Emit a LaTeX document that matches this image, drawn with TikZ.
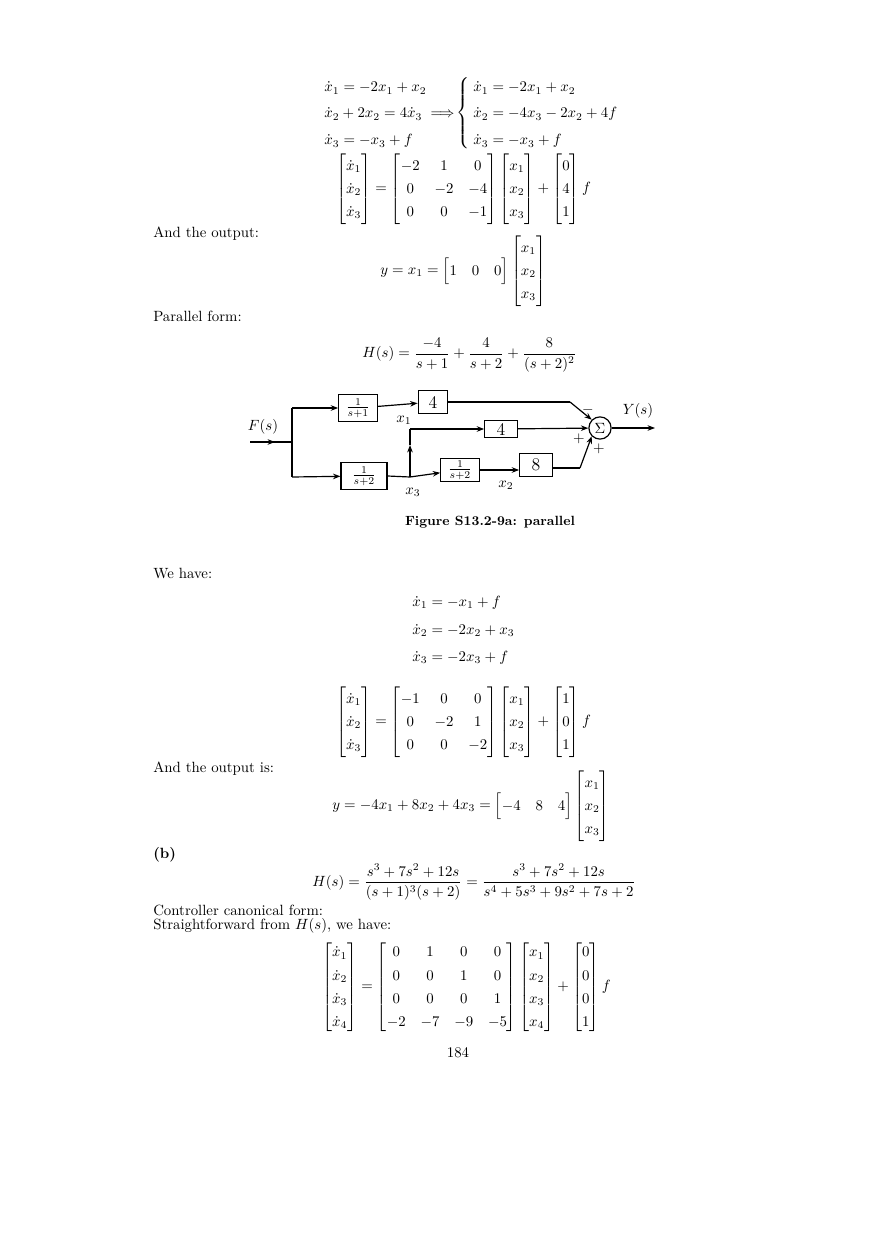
\documentclass[tikz,border=0pt]{standalone}
\usepackage{amsmath}
\usetikzlibrary{arrows.meta}
\begin{document}
\begin{tikzpicture}[x=0.675pt,y=-0.675pt,
  txt/.style={anchor=west,inner sep=0pt,font=\normalsize},
  mth/.style={inner sep=0pt},
  eqw/.style={anchor=base west,inner sep=0pt},
  blk/.style={draw,thick,minimum height=#1,inner sep=1pt},
  sig/.style={->,thick,>={Stealth[length=5pt]}},
  ln/.style={thick}]
\useasboundingbox (0,0) rectangle (880,1247);
\renewcommand{\arraystretch}{1.3}
% --- top equations
\node[eqw] (a1) at (324,92) {$\dot x_1=-2x_1+x_2$};
\node[eqw] (a2) at (324,118) {$\dot x_2+2x_2=4\dot x_3\;\Longrightarrow$};
\node[eqw] (a3) at (324,145) {$\dot x_3=-x_3+f$};
\node[mth] (brc) at (464,113) {$\left\{\rule[-21pt]{0pt}{42pt}\right.$};
\node[eqw] (r1) at (473,92) {$\dot x_1=-2x_1+x_2$};
\node[eqw] (r2) at (473,118) {$\dot x_2=-4x_3-2x_2+4f$};
\node[eqw] (r3) at (473,145) {$\dot x_3=-x_3+f$};
\node[mth,anchor=west] (m1) at (336,189) {$\begin{bmatrix}\dot x_1\\ \dot x_2\\ \dot x_3\end{bmatrix}=\begin{bmatrix}-2&1&0\\0&-2&-4\\0&0&-1\end{bmatrix}\begin{bmatrix}x_1\\x_2\\x_3\end{bmatrix}+\begin{bmatrix}0\\4\\1\end{bmatrix}f$};
\node[txt] (t1) at (153,234) {And the output:};
\node[mth,anchor=west] (y1) at (380,271) {$y=x_1=\begin{bmatrix}1&0&0\end{bmatrix}\begin{bmatrix}x_1\\x_2\\x_3\end{bmatrix}$};
\node[txt] (t2) at (153,316) {Parallel form:};
\node[mth,anchor=west] (h1) at (362,355) {$H(s)=\dfrac{-4}{s+1}+\dfrac{4}{s+2}+\dfrac{8}{(s+2)^2}$};
% --- block diagram
\coordinate (in) at (250,442);
\coordinate (br) at (292,442);
\coordinate (brT) at (292,408);
\coordinate (brB) at (292,477);
\node[blk=18pt,minimum width=26pt] (b1) at (358,408) {$\frac{1}{s+1}$};
\node[blk=15pt,minimum width=20pt] (k1) at (433,402) {\large 4};
\node[blk=18pt,minimum width=31pt] (b2) at (364,476) {$\frac{1}{s+2}$};
\coordinate (j3) at (410,477);
\coordinate (j3u) at (410,429);
\node[blk=15pt,minimum width=26pt] (b3) at (460,470) {$\frac{1}{s+2}$};
\node[blk=15pt,minimum width=22pt] (k3) at (536,465) {\large 8};
\node[blk=12pt,minimum width=22pt] (k2) at (501,429) {\large 4};
\node[draw,thick,circle,minimum size=15pt,inner sep=0pt] (S) at (600,428) {$\Sigma$};
\coordinate (out) at (655,428);
\coordinate (c1) at (570,402);
\coordinate (c3) at (580,468);
\draw[ln] (in) -- (br);
\draw[sig] (in) -- (275,442);
\draw[ln] (brT) -- (brB);
\draw[sig] (brT) -- (b1);
\draw[sig] (b1) -- (k1);
\draw[ln] (k1) -- (c1);
\draw[sig] (c1) -- (S.north west);
\draw[sig] (brB) -- (b2);
\draw[ln] (b2.east) -- (j3);
\draw[sig] (j3) -- (b3);
\draw[sig] (j3) -- (410,445);
\draw[ln] (410,445) -- (j3u);
\draw[sig] (j3u) -- (k2);
\draw[sig] (k2) -- (S);
\draw[sig] (b3) -- (k3.west|-b3);
\draw[ln] (k3.east|-c3) -- (c3);
\draw[sig] (c3) -- (S.south west);
\draw[sig] (S) -- (out);
\node (fl) at (263,427) {$F(s)$};
\node (yl) at (638,411) {$Y(s)$};
\node (x1l) at (404,420) {$x_1$};
\node (x3l) at (413,492) {$x_3$};
\node (x2l) at (506,485) {$x_2$};
\node (mi) at (588,410) {$-$};
\node (p1) at (579,439) {$+$};
\node (p2) at (599,449) {$+$};
\node[inner sep=0pt] (cap) at (490,522) {\small\bfseries Figure S13.2-9a: parallel};
% --- second part
\node[txt] (t3) at (153,574) {We have:};
\node[eqw] (q1) at (412,606) {$\dot x_1=-x_1+f$};
\node[eqw] (q2) at (412,634) {$\dot x_2=-2x_2+x_3$};
\node[eqw] (q3) at (412,661) {$\dot x_3=-2x_3+f$};
\node[mth,anchor=west] (m2) at (336,722) {$\begin{bmatrix}\dot x_1\\ \dot x_2\\ \dot x_3\end{bmatrix}=\begin{bmatrix}-1&0&0\\0&-2&1\\0&0&-2\end{bmatrix}\begin{bmatrix}x_1\\x_2\\x_3\end{bmatrix}+\begin{bmatrix}1\\0\\1\end{bmatrix}f$};
\node[txt] (t4) at (153,769) {And the output is:};
\node[mth,anchor=west] (y2) at (332,806) {$y=-4x_1+8x_2+4x_3=\begin{bmatrix}-4&8&4\end{bmatrix}\begin{bmatrix}x_1\\x_2\\x_3\end{bmatrix}$};
\node[txt] (t5) at (153,855) {\bfseries (b)};
\node[mth,anchor=west] (h2) at (312,882) {$H(s)=\dfrac{s^3+7s^2+12s}{(s+1)^3(s+2)}=\dfrac{s^3+7s^2+12s}{s^4+5s^3+9s^2+7s+2}$};
\node[txt] (t6) at (153,910) {Controller canonical form:};
\node[txt] (t7) at (153,926) {Straightforward from $H(s)$, we have:};
\node[mth,anchor=west] (m3) at (322,987) {$\begin{bmatrix}\dot x_1\\ \dot x_2\\ \dot x_3\\ \dot x_4\end{bmatrix}=\begin{bmatrix}0&1&0&0\\0&0&1&0\\0&0&0&1\\-2&-7&-9&-5\end{bmatrix}\begin{bmatrix}x_1\\x_2\\x_3\\x_4\end{bmatrix}+\begin{bmatrix}0\\0\\0\\1\end{bmatrix}f$};
\node[inner sep=0pt] (pg) at (458,1053) {184};
\end{tikzpicture}
\end{document}
